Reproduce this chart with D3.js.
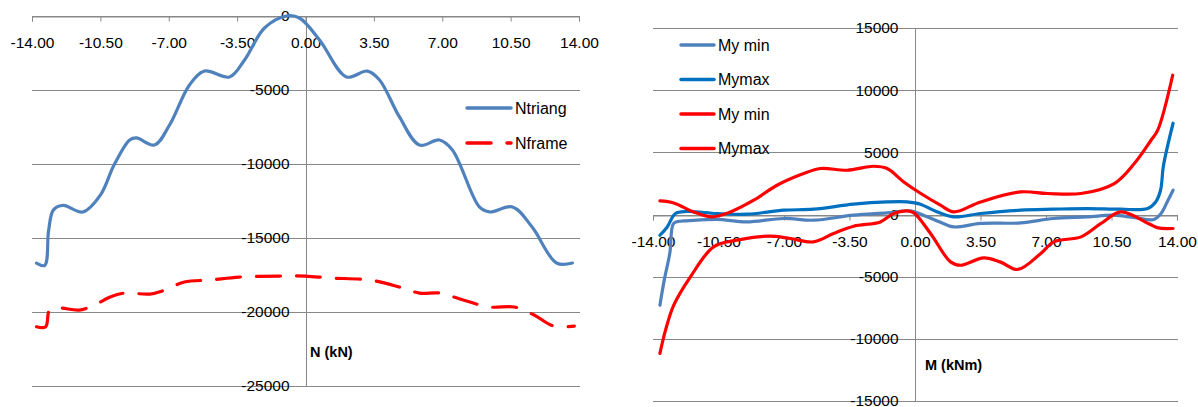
<!DOCTYPE html>
<html>
<head>
<meta charset="utf-8">
<script src="https://cdn.jsdelivr.net/npm/d3@7"></script>
<style>
  body { margin: 0; background: #fff; }
  text { font-family: "Liberation Sans", Arial, sans-serif; fill: #000; }
</style>
</head>
<body>
<svg id="chart" width="1198" height="407"></svg>
<script>
// Position along the member (m)
const xTicks = [-14, -10.5, -7, -3.5, 0, 3.5, 7, 10.5, 14];
const nTicks = [0, -5000, -10000, -15000, -20000, -25000];
const mTicks = [15000, 10000, 5000, 0, -5000, -10000, -15000];

// Axial force N (kN)
const ntriangX = [-13.77, -13.35, -13.15, -12.9, -12.4, -11.4, -10.5, -9.8, -9.0, -8.65, -7.73, -6.96, -5.94, -5.17, -3.89, -3.12, -2.1, -0.97, -0.31, 0.72, 2.1, 3.17, 3.79, 4.81, 5.83, 6.86, 7.52, 8.9, 9.42, 10.6, 11.6, 12.85, 13.66];
const ntriangY = [-16700, -16850, -14500, -13100, -12800, -13240, -12100, -10070, -8380, -8240, -8720, -7365, -4660, -3720, -4120, -2970, -810, 0, -135, -1620, -4120, -3720, -4320, -6820, -8720, -8380, -9050, -12900, -13240, -12900, -14260, -16690, -16690];

const nframeX = [-13.77, -13.3, -13.1, -12.6, -11.6, -10.8, -10.0, -9.26, -7.98, -7.2, -6.2, -4.9, -3.4, -1.33, 0, 1.23, 3.28, 4.8, 5.83, 6.86, 7.9, 9.42, 10.7, 11.7, 12.7, 13.76];
const nframeY = [-21000, -21000, -19870, -19730, -19870, -19530, -18990, -18720, -18790, -18520, -17970, -17840, -17640, -17570, -17570, -17700, -17840, -18310, -18720, -18720, -19120, -19660, -19660, -20200, -20950, -20950];

// Bending moment M (kNm)
const myMinAX = [-13.63, -13.4, -13.1, -12.9, -12.55, -12.2, -10.6, -8.98, -7.02, -5.42, -3.29, -1.49, -0.24, 0.45, 1.36, 2.06, 3.5, 5.64, 7.4, 9.22, 10.6, 11.7, 12.77, 13.15, 13.52, 13.79];
const myMinAY = [-7290, -5280, -3100, -720, -540, -515, -400, -595, -320, -460, -55, 130, 290, -55, -620, -1000, -720, -675, -320, -190, -55, -240, -400, 80, 1150, 1950];

const myMaxAX = [-13.63, -13.24, -12.8, -12.18, -10.57, -8.97, -7.01, -5.41, -3.29, -1.49, -0.42, 0.29, 1.1, 2.06, 3.5, 5.64, 7.4, 9.22, 10.98, 12.43, 12.86, 13.12, 13.28, 13.79];
const myMaxAY = [-1670, -1000, 80, 240, 80, 25, 345, 425, 830, 1010, 1010, 830, 265, -190, 80, 345, 425, 480, 425, 480, 1010, 1950, 3960, 7340];

const myMinBX = [-13.63, -13.33, -12.89, -12.0, -10.76, -9.52, -7.74, -6.66, -5.42, -4.35, -3.28, -1.85, -1.14, -0.42, -0.06, 0.83, 1.9, 2.43, 3.67, 4.58, 5.49, 6.72, 7.42, 8.87, 9.94, 11.01, 12.46, 12.99, 13.79];
const myMinBY = [-11170, -9300, -7290, -5015, -2605, -2065, -1740, -1930, -2200, -1530, -940, -595, 80, 290, 130, -1530, -3810, -4080, -3490, -3830, -4420, -3135, -2200, -1800, -720, 210, -720, -1080, -1125];

const myMaxBX = [-13.63, -12.89, -11.83, -10.84, -9.86, -8.62, -7.37, -5.95, -5.06, -3.63, -2.21, -1.49, -0.6, 0.29, 1.36, 2.07, 3.5, 5.64, 7.07, 8.87, 10.65, 11.72, 12.61, 12.97, 13.77];
const myMaxBY = [1095, 930, 210, -190, 210, 1150, 2355, 3295, 3700, 3560, 3880, 3700, 2620, 1710, 750, 210, 1010, 1815, 1690, 1690, 2490, 4100, 5970, 6780, 11200];

const nSeries = [
  { name: "Ntriang", xs: ntriangX, ys: ntriangY, color: "#4F81BD", dash: null },
  { name: "Nframe", xs: nframeX, ys: nframeY, color: "#FF0000", dash: "24,16" }
];
const mSeries = [
  { name: "My min", xs: myMinAX, ys: myMinAY, color: "#4F81BD" },
  { name: "Mymax", xs: myMaxAX, ys: myMaxAY, color: "#0070C0" },
  { name: "My min", xs: myMinBX, ys: myMinBY, color: "#FF0000" },
  { name: "Mymax", xs: myMaxBX, ys: myMaxBY, color: "#FF0000" }
];

const svg = d3.select("#chart");
const GRID = "#888888";
const FS = "15.5px";
// plain hyphen-minus for negative numbers
const fmtX = d => d.toFixed(2);
const fmtY = d => String(d);

function panel(cfg) {
  const g = svg.append("g");
  const x = d3.scaleLinear().domain([-14, 14]).range(cfg.xRange);
  const y = d3.scaleLinear().domain(cfg.yDomain).range(cfg.yRange);
  const x0 = x(0), y0 = y(0);

  // horizontal gridlines
  g.append("g").selectAll("line").data(cfg.yTicks).join("line")
    .attr("x1", cfg.xRange[0]).attr("x2", cfg.xRange[1] + 1)
    .attr("y1", d => Math.round(y(d)) + 0.5).attr("y2", d => Math.round(y(d)) + 0.5)
    .attr("stroke", GRID).attr("stroke-width", 1);

  // vertical axis line
  g.append("line")
    .attr("x1", Math.round(x0) + 0.5).attr("x2", Math.round(x0) + 0.5)
    .attr("y1", y(cfg.yDomain[1])).attr("y2", y(cfg.yDomain[0]))
    .attr("stroke", GRID).attr("stroke-width", 1);

  // horizontal axis with ticks and labels
  const xAxis = d3.axisBottom(x).tickValues(xTicks).tickFormat(fmtX)
    .tickSize(5).tickPadding(15.5);
  const xa = g.append("g").attr("transform", `translate(0,${Math.round(y0) + 0.5})`).call(xAxis);
  xa.select(".domain").attr("stroke", GRID);
  xa.selectAll(".tick line").attr("stroke", GRID);
  xa.selectAll("text").style("font-size", FS).attr("fill", "#000")
    .style("font-family", '"Liberation Sans", Arial, sans-serif');

  // vertical axis labels
  const yAxis = d3.axisLeft(y).tickValues(cfg.yTicks).tickFormat(fmtY)
    .tickSize(0).tickPadding(17);
  const ya = g.append("g").attr("transform", `translate(${Math.round(x0) + 0.5},0)`).call(yAxis);
  ya.select(".domain").remove();
  ya.selectAll("text").style("font-size", FS).attr("fill", "#000")
    .style("font-family", '"Liberation Sans", Arial, sans-serif');

  // axis title
  g.append("text").attr("x", cfg.titlePos[0]).attr("y", cfg.titlePos[1])
    .attr("dy", "0.35em").style("font-size", "14.5px").style("font-weight", "bold")
    .text(cfg.title);

  // series
  const line = d3.line().curve(d3.curveCatmullRom.alpha(0.5));
  cfg.series.forEach(s => {
    const pts = s.xs.map((v, i) => [x(v), y(s.ys[i])]);
    g.append("path").attr("d", line(pts)).attr("fill", "none")
      .attr("stroke", s.color).attr("stroke-width", 3.2)
      .attr("stroke-linecap", "round").attr("stroke-linejoin", "round")
      .attr("stroke-dasharray", s.dash || null);
  });

  // legend
  const lg = g.append("g");
  cfg.series.forEach((s, i) => {
    const ly = cfg.legend.y + i * cfg.legend.step;
    lg.append("line").attr("x1", cfg.legend.x1).attr("x2", cfg.legend.x2)
      .attr("y1", ly).attr("y2", ly)
      .attr("stroke", s.color).attr("stroke-width", 3.5)
      .attr("stroke-linecap", "round")
      .attr("stroke-dasharray", s.dash || null);
    lg.append("text").attr("x", cfg.legend.tx).attr("y", ly).attr("dy", "0.35em")
      .style("font-size", "16px").text(s.name);
  });
}

panel({
  xRange: [32, 579], yDomain: [-25000, 0], yRange: [386, 16],
  yTicks: nTicks, series: nSeries,
  title: "N (kN)", titlePos: [310, 352],
  legend: { x1: 467, x2: 511, tx: 515, y: 108, step: 35 }
});

panel({
  xRange: [653, 1177], yDomain: [-15000, 15000], yRange: [401, 28],
  yTicks: mTicks, series: mSeries,
  title: "M (kNm)", titlePos: [925, 365],
  legend: { x1: 681, x2: 714, tx: 718, y: 45, step: 34.5 }
});
</script>
</body>
</html>
